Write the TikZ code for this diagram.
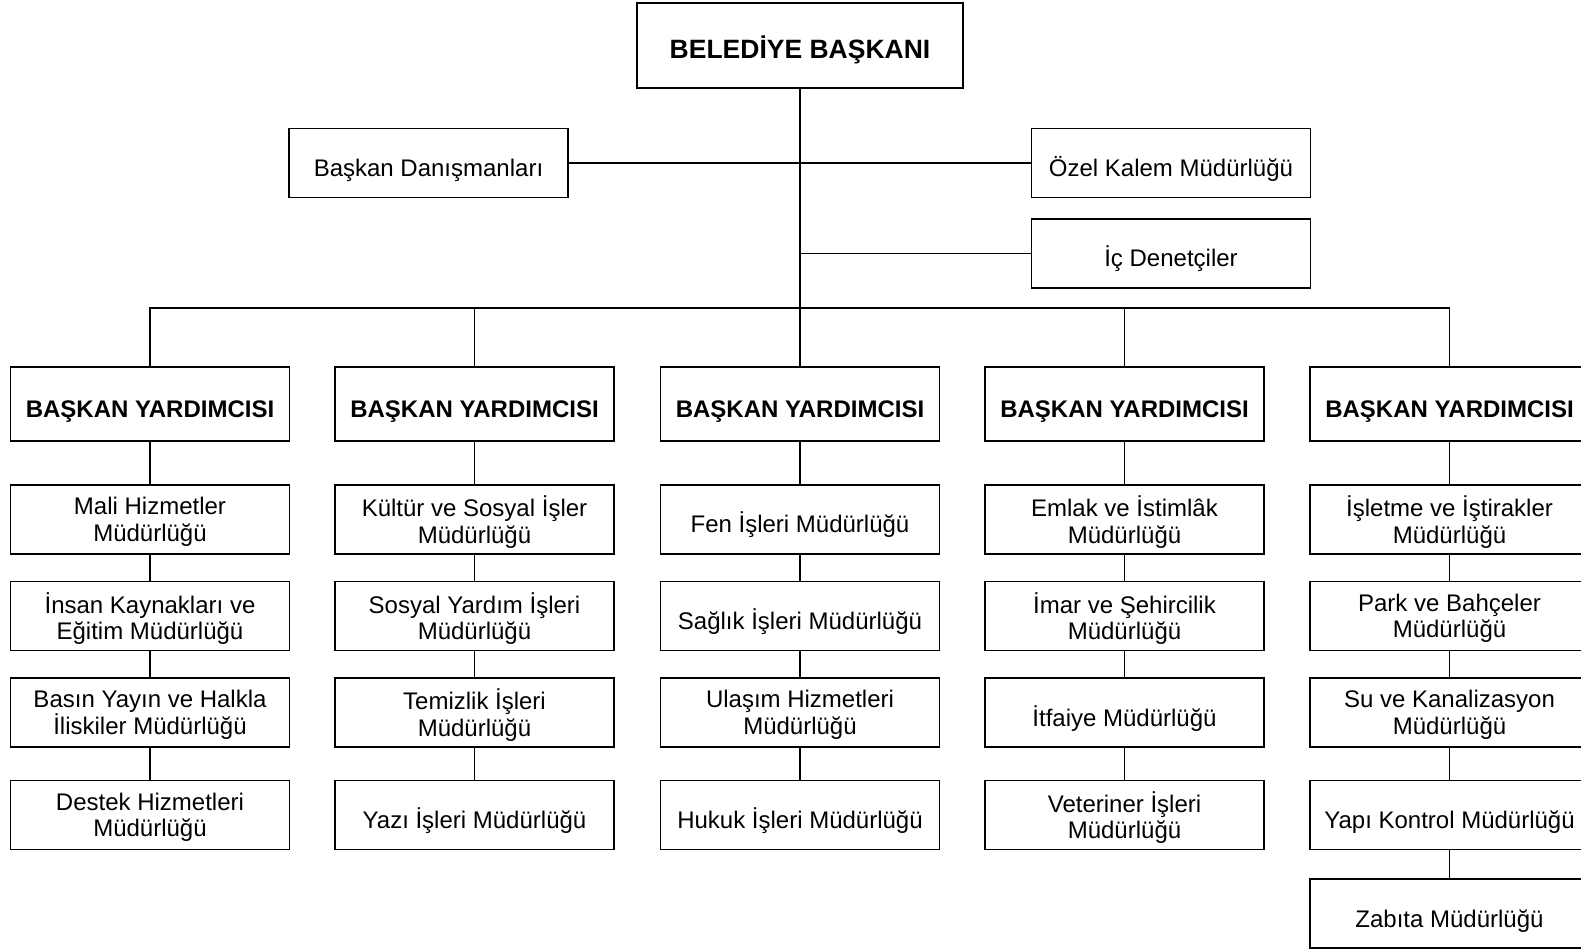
\documentclass[tikz,border=0pt]{standalone}
\usepackage{fontspec}
\setmainfont{Liberation Sans}
\tikzstyle{unit}=[
  draw,
  line width=1.5pt,
  minimum width=279pt,
  minimum height=69pt,
  inner sep=0pt,
  align=center,
  font=\fontsize{24}{26.5}\selectfont,
  execute at begin node={\rule{0pt}{32pt}},
  ]
\tikzstyle{twoline}=[ unit, execute at begin node={}, text depth=-10pt ]
\tikzstyle{chief}=[ unit, minimum width=326pt, minimum height=85pt, font=\fontsize{26.5}{30}\selectfont\bfseries, execute at begin node={} ]
\tikzstyle{deputy}=[ unit, minimum height=74pt, font=\fontsize{24}{26.5}\selectfont\bfseries ]
\tikzstyle{link}=[ line width=1.5pt ]

\begin{document}
\begin{tikzpicture}[
    x=1pt, y=-1pt,
    ]
    \useasboundingbox (0,0) rectangle (1581,949);

    \node[chief] (bsk) at (800,45.5) {BELEDİYE BAŞKANI};
    \node[unit] (dan) at (428.5,163) {Başkan Danışmanları};
    \node[unit] (ozel) at (1171,163) {Özel Kalem Müdürlüğü};
    \node[unit] (ic) at (1171,253.5) {İç Denetçiler};
    \draw[link] (dan.east) -- (ozel.west);
    \draw[link] (bsk.south |- ic.west) -- (ic.west);

    % deputies
    \node[deputy] (vp1) at (150,404) {BAŞKAN YARDIMCISI};
    \node[deputy] (vp2) at (474.5,404) {BAŞKAN YARDIMCISI};
    \node[deputy] (vp3) at (800,404) {BAŞKAN YARDIMCISI};
    \node[deputy] (vp4) at (1124.5,404) {BAŞKAN YARDIMCISI};
    \node[deputy] (vp5) at (1449.5,404) {BAŞKAN YARDIMCISI};
    \coordinate (bus) at (800,308);
    \draw[link] (bsk.south) -- (vp3.north);
    \draw[link] (vp1.north) |- (bus) -| (vp5.north);
    \draw[link] (vp2.north) -- (vp2.north |- bus);
    \draw[link] (vp4.north) -- (vp4.north |- bus);

    \node[twoline] (m11) at (150,519.5) {Mali Hizmetler\\Müdürlüğü};
    \node[twoline] (m12) at (150,616) {İnsan Kaynakları ve\\Eğitim Müdürlüğü};
    \node[twoline] (m13) at (150,712.5) {Basın Yayın ve Halkla\\İliskiler Müdürlüğü};
    \node[twoline] (m14) at (150,815) {Destek Hizmetleri\\Müdürlüğü};
    \draw[link] (vp1) -- (m11) -- (m12) -- (m13) -- (m14);

    \node[twoline] (m21) at (474.5,519.5) {Kültür ve Sosyal İşler\\Müdürlüğü};
    \node[twoline] (m22) at (474.5,616) {Sosyal Yardım İşleri\\Müdürlüğü};
    \node[twoline] (m23) at (474.5,712.5) {Temizlik İşleri\\Müdürlüğü};
    \node[unit] (m24) at (474.5,815) {Yazı İşleri Müdürlüğü};
    \draw[link] (vp2) -- (m21) -- (m22) -- (m23) -- (m24);

    \node[unit] (m31) at (800,519.5) {Fen İşleri Müdürlüğü};
    \node[unit] (m32) at (800,616) {Sağlık İşleri Müdürlüğü};
    \node[twoline] (m33) at (800,712.5) {Ulaşım Hizmetleri\\Müdürlüğü};
    \node[unit] (m34) at (800,815) {Hukuk İşleri Müdürlüğü};
    \draw[link] (vp3) -- (m31) -- (m32) -- (m33) -- (m34);

    \node[twoline] (m41) at (1124.5,519.5) {Emlak ve İstimlâk\\Müdürlüğü};
    \node[twoline] (m42) at (1124.5,616) {İmar ve Şehircilik\\Müdürlüğü};
    \node[unit] (m43) at (1124.5,712.5) {İtfaiye Müdürlüğü};
    \node[twoline] (m44) at (1124.5,815) {Veteriner İşleri\\Müdürlüğü};
    \draw[link] (vp4) -- (m41) -- (m42) -- (m43) -- (m44);

    \node[twoline] (m51) at (1449.5,519.5) {İşletme ve İştirakler\\Müdürlüğü};
    \node[twoline] (m52) at (1449.5,616) {Park ve Bahçeler\\Müdürlüğü};
    \node[twoline] (m53) at (1449.5,712.5) {Su ve Kanalizasyon\\Müdürlüğü};
    \node[unit] (m54) at (1449.5,815) {Yapı Kontrol Müdürlüğü};
    \node[unit] (m55) at (1449.5,913.5) {Zabıta Müdürlüğü};
    \draw[link] (vp5) -- (m51) -- (m52) -- (m53) -- (m54) -- (m55);
  \end{tikzpicture}
\end{document}
